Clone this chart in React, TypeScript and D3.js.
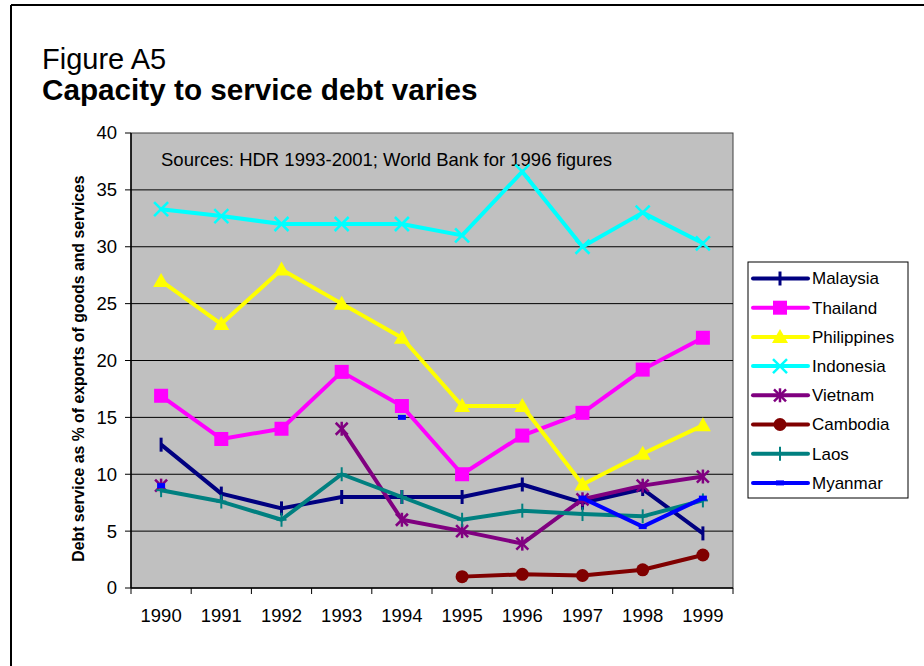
import React from "react";
import * as d3 from "d3";

const years = ["1990", "1991", "1992", "1993", "1994", "1995", "1996", "1997", "1998", "1999"];
const yTicks = [0, 5, 10, 15, 20, 25, 30, 35, 40];

const malaysia = [12.6, 8.3, 7.0, 8.0, 8.0, 8.0, 9.1, 7.5, 8.7, 4.8];
const thailand = [16.9, 13.1, 14.0, 19.0, 16.0, 10.0, 13.4, 15.4, 19.2, 22.0];
const philippines = [27.0, 23.2, 28.0, 25.0, 22.0, 16.0, 16.0, 9.1, 11.8, 14.3];
const indonesia = [33.3, 32.7, 32.0, 32.0, 32.0, 31.0, 36.6, 30.0, 33.0, 30.3];
const vietnam = [9.0, null, null, 14.0, 6.0, 5.0, 3.9, 7.8, 9.0, 9.8];
const cambodia = [null, null, null, null, null, 1.0, 1.2, 1.1, 1.6, 2.9];
const laos = [8.6, 7.6, 6.0, 10.0, 8.0, 6.0, 6.8, 6.5, 6.3, 7.7];
const myanmar = [9.0, null, null, null, 15.0, null, null, 7.9, 5.4, 7.9];

const seriesNames = ["Malaysia", "Thailand", "Philippines", "Indonesia", "Vietnam", "Cambodia", "Laos", "Myanmar"];
const seriesValues = [malaysia, thailand, philippines, indonesia, vietnam, cambodia, laos, myanmar];
const seriesColors = ["#000080", "#FF00FF", "#FFFF00", "#00FFFF", "#800080", "#800000", "#008080", "#0000FF"];
const seriesMarkers = ["vbar", "square", "triangle", "x", "star", "circle", "plus", "dash"];

const FONT = "Arial, 'Liberation Sans', sans-serif";

function Marker({ type, x, y, color }: { type: string; x: number; y: number; color: string }) {
  switch (type) {
    case "vbar":
      return <line x1={x} x2={x} y1={y - 7} y2={y + 7} stroke={color} strokeWidth={3} />;
    case "plus":
      return (
        <g stroke={color} strokeWidth={2}>
          <line x1={x} x2={x} y1={y - 7} y2={y + 7} />
          <line x1={x - 5} x2={x + 5} y1={y} y2={y} />
        </g>
      );
    case "square":
      return <rect x={x - 7} y={y - 7} width={14} height={14} fill={color} />;
    case "triangle":
      return <path d={`M${x},${y - 8}L${x + 8},${y + 6}L${x - 8},${y + 6}Z`} fill={color} />;
    case "x":
      return (
        <g stroke={color} strokeWidth={2.5}>
          <line x1={x - 7} x2={x + 7} y1={y - 7} y2={y + 7} />
          <line x1={x - 7} x2={x + 7} y1={y + 7} y2={y - 7} />
        </g>
      );
    case "star":
      return (
        <g stroke={color} strokeWidth={2.5}>
          <line x1={x - 6} x2={x + 6} y1={y - 6} y2={y + 6} />
          <line x1={x - 6} x2={x + 6} y1={y + 6} y2={y - 6} />
          <line x1={x} x2={x} y1={y - 7} y2={y + 7} />
        </g>
      );
    case "circle":
      return <circle cx={x} cy={y} r={6.5} fill={color} />;
    case "dash":
      return <rect x={x - 4} y={y - 2.5} width={8} height={5} fill={color} />;
    default:
      return null;
  }
}

export default function App() {
  const W = 924, H = 666;
  const left = 131, right = 733, top = 133, bottom = 588;
  const x = d3.scaleBand<string>().domain(years).range([left, right]);
  const y = d3.scaleLinear().domain([0, 40]).range([bottom, top]);
  const cx = (yr: string) => (x(yr) as number) + x.bandwidth() / 2;

  const lineGen = d3
    .line<number | null>()
    .defined((d) => d !== null)
    .x((_, i) => cx(years[i]))
    .y((d) => y(d as number));

  const legendX = 748, legendY = 262, legendW = 160, legendH = 236;
  const rowY0 = 278.5, rowStep = 29.2;

  return (
    <svg width={W} height={H} style={{ position: "absolute", left: 0, top: 0 }} fontFamily={FONT}>
      <rect x={0} y={0} width={W} height={H} fill="#fff" />
      {/* outer frame */}
      <line x1={11} x2={W} y1={5} y2={5} stroke="#000" strokeWidth={2} />
      <line x1={11} x2={11} y1={5} y2={H} stroke="#000" strokeWidth={2} />

      <text x={42} y={69} fontSize={29}>Figure A5</text>
      <text x={42} y={100} fontSize={29.7} fontWeight="bold">Capacity to service debt varies</text>

      {/* plot area */}
      <rect x={left} y={top} width={right - left} height={bottom - top} fill="#C0C0C0" stroke="#404040" strokeWidth={1} />
      {yTicks.filter((t) => t > 0 && t < 40).map((t) => (
        <line key={t} x1={left} x2={right} y1={y(t)} y2={y(t)} stroke="#000" strokeWidth={1} />
      ))}
      {/* axes */}
      <line x1={left} x2={left} y1={top} y2={bottom} stroke="#000" strokeWidth={1.5} />
      <line x1={left} x2={right} y1={bottom} y2={bottom} stroke="#000" strokeWidth={1.5} />
      {yTicks.map((t) => (
        <g key={t}>
          <line x1={left - 6} x2={left} y1={y(t)} y2={y(t)} stroke="#000" strokeWidth={1} />
          <text x={117} y={y(t)} dy="0.35em" textAnchor="end" fontSize={18.5}>{t}</text>
        </g>
      ))}
      {years.map((yr, i) => (
        <line key={"t" + yr} x1={left + i * x.bandwidth()} x2={left + i * x.bandwidth()} y1={bottom} y2={bottom + 6} stroke="#000" strokeWidth={1} />
      ))}
      <line x1={right} x2={right} y1={bottom} y2={bottom + 6} stroke="#000" strokeWidth={1} />
      {years.map((yr) => (
        <text key={yr} x={cx(yr)} y={622} textAnchor="middle" fontSize={18.5}>{yr}</text>
      ))}

      <text transform={`translate(84,${(top + bottom) / 2 + 8}) rotate(-90)`} textAnchor="middle" fontSize={15.8} fontWeight="bold">
        Debt service as % of exports of goods and services
      </text>

      <text x={161} y={166} fontSize={18.5}>Sources: HDR 1993-2001; World Bank for 1996 figures</text>

      {/* series */}
      {seriesValues.map((vals, si) => (
        <g key={seriesNames[si]}>
          <path d={lineGen(vals) || ""} fill="none" stroke={seriesColors[si]} strokeWidth={4} strokeLinejoin="round" />
          {vals.map((v, i) =>
            v === null ? null : (
              <Marker key={i} type={seriesMarkers[si]} x={cx(years[i])} y={y(v)} color={seriesColors[si]} />
            )
          )}
        </g>
      ))}

      {/* legend */}
      <rect x={legendX} y={legendY} width={legendW} height={legendH} fill="#fff" stroke="#000" strokeWidth={1} />
      {seriesNames.map((name, i) => {
        const ry = rowY0 + i * rowStep;
        return (
          <g key={name}>
            <line x1={753} x2={808} y1={ry} y2={ry} stroke={seriesColors[i]} strokeWidth={4} strokeLinecap="round" />
            <Marker type={seriesMarkers[i]} x={780} y={ry} color={seriesColors[i]} />
            <text x={812} y={ry} dy="0.35em" fontSize={17}>{name}</text>
          </g>
        );
      })}
    </svg>
  );
}
